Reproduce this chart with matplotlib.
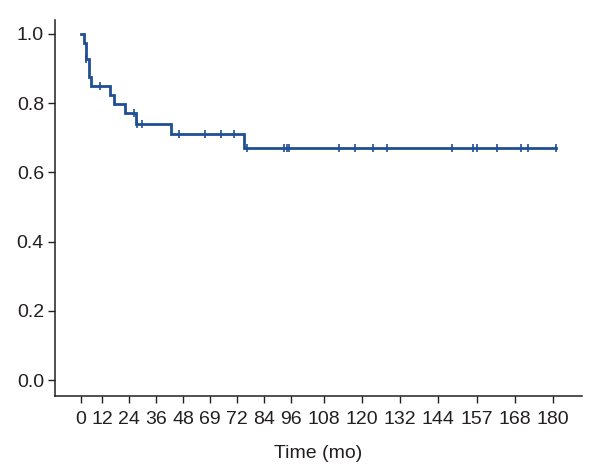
import numpy as np
import matplotlib
matplotlib.use("Agg")
import matplotlib.pyplot as plt

plt.rcParams["font.family"] = ["Liberation Sans", "DejaVu Sans"]

# Kaplan-Meier steps (months, survival)
event_times = [0, 1.9, 2.8, 4.8, 6.0, 15.6, 17.5, 22.2, 27.1, 42.5, 75.1]
survival = [1.0, 0.973, 0.928, 0.875, 0.850, 0.822, 0.797, 0.771, 0.740, 0.711, 0.671]
follow_up_end = 181.0

# censored observations (months)
censor_times = [3.0, 10.9, 26.2, 27.7, 29.9, 46.1, 57.8, 64.8, 70.7, 76.3,
                92.9, 94.0, 95.0, 112.9, 117.9, 123.6, 127.8, 148.3, 154.9,
                156.0, 162.3, 170.0, 172.3, 181.0]

# x-axis ticks as printed in the figure
tick_values = list(range(0, 181, 12))
tick_labels = ["0", "12", "24", "36", "48", "69", "72", "84", "96", "108",
               "120", "132", "144", "157", "168", "180"]

# the printed axis is not evenly spaced: relative tick spacing (layout)
tick_pos = [80.7, 102, 129, 156, 183.3, 210, 237, 264.3, 291.3, 324,
            361.7, 400, 438.3, 476.7, 514.7, 552.7]
anchor_t = [-24] + tick_values + [192]
anchor_p = [tick_pos[0] - 2 * (tick_pos[1] - tick_pos[0])] + tick_pos + [tick_pos[-1] + 38]


def forward(t):
    return np.interp(t, anchor_t, anchor_p)


def inverse(p):
    return np.interp(p, anchor_p, anchor_t)


COLOR = "#1f4e94"
TEXT = "#231f20"

fig = plt.figure(figsize=(6.0, 4.7), dpi=100)
ax = fig.add_axes([55 / 600, 74 / 470, 527 / 600, 376 / 470])
ax.set_xscale("function", functions=(forward, inverse))

xs = list(event_times) + [follow_up_end]
ys = list(survival) + [survival[-1]]
ax.step(xs, ys, where="post", color=COLOR, linewidth=2.0, solid_joinstyle="miter")

idx = np.searchsorted(event_times, censor_times, side="right") - 1
censor_surv = np.array(survival)[idx]
ax.plot(censor_times, censor_surv, linestyle="none", marker="|",
        markersize=5.5, markeredgewidth=1.2, color=COLOR)

ax.set_xlim(inverse(55), inverse(582))
ax.set_ylim(-0.046, 1.040)

ax.set_xticks(tick_values)
ax.set_xticklabels(tick_labels)
ax.set_yticks([0.0, 0.2, 0.4, 0.6, 0.8, 1.0])
ax.set_yticklabels(["0.0", "0.2", "0.4", "0.6", "0.8", "1.0"])
ax.xaxis.set_minor_locator(matplotlib.ticker.NullLocator())

ax.tick_params(axis="both", direction="out", length=5, width=1.0,
               labelsize=14, colors=TEXT)
ax.tick_params(axis="x", pad=6)
ax.tick_params(axis="y", pad=3)

for side in ["top", "right"]:
    ax.spines[side].set_visible(False)
for side in ["left", "bottom"]:
    ax.spines[side].set_linewidth(1.1)
    ax.spines[side].set_color(TEXT)

ax.set_xlabel("Time (mo)", fontsize=14, labelpad=12, color=TEXT)

fig.savefig("out.png", dpi=100)
